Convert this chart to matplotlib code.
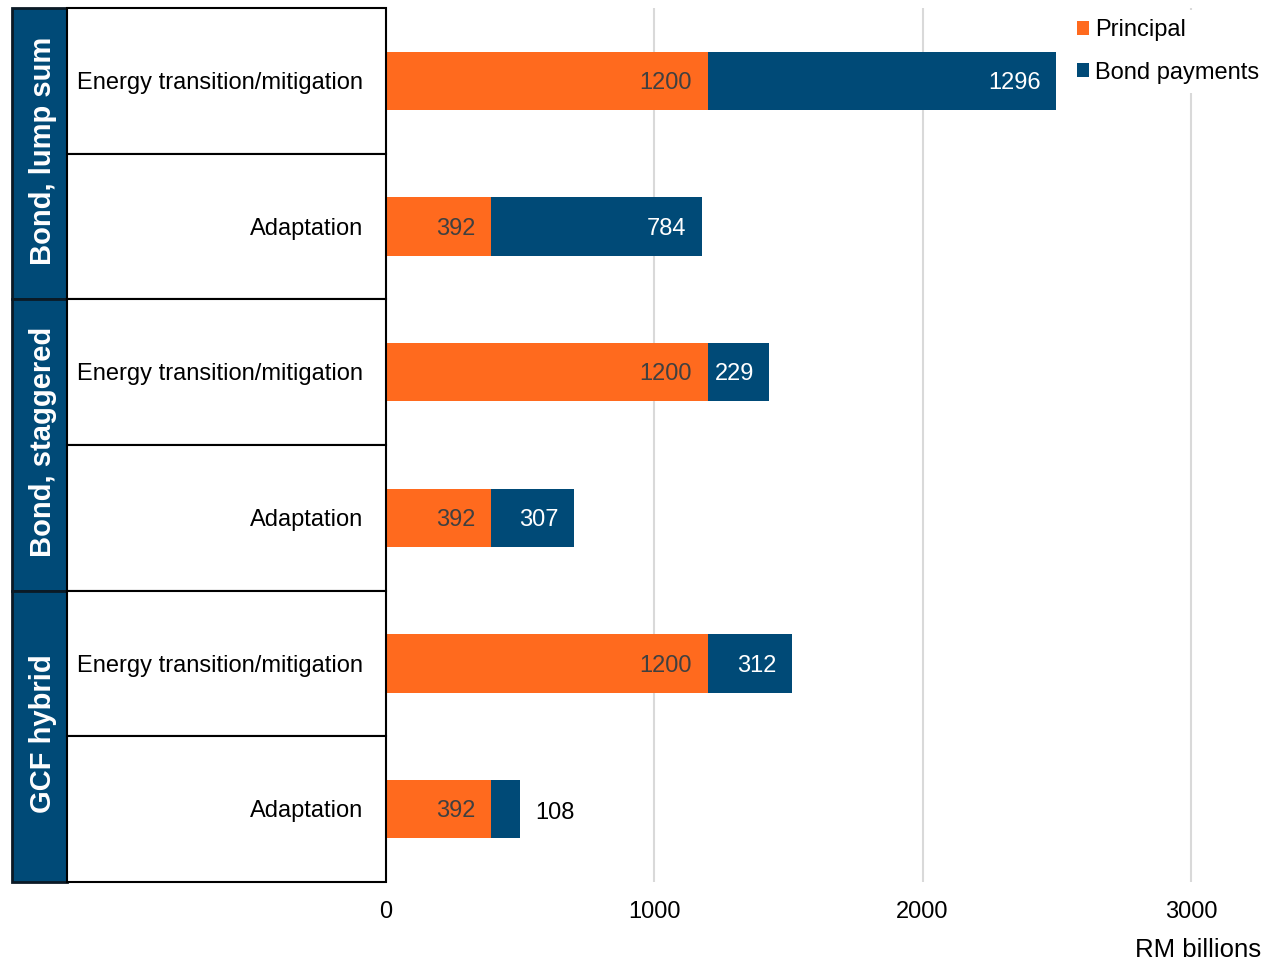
import matplotlib
matplotlib.use("Agg")
import matplotlib.pyplot as plt
from matplotlib.patches import Rectangle, Patch
import numpy as np

plt.rcParams['font.family'] = ['Liberation Sans', 'DejaVu Sans']

groups = ["Bond, lump sum", "Bond, staggered", "GCF hybrid"]
subcats = ["Energy transition/mitigation", "Adaptation",
           "Energy transition/mitigation", "Adaptation",
           "Energy transition/mitigation", "Adaptation"]
principal = [1200, 392, 1200, 392, 1200, 392]
bond_payments = [1296, 784, 229, 307, 312, 108]
series_names = ["Principal", "Bond payments"]
xticks = [0, 1000, 2000, 3000]

ORANGE = '#FF6A1E'
BLUE = '#004A77'
W, H = 1263, 963

fig = plt.figure(figsize=(W / 100, H / 100), dpi=100)
ax = fig.add_axes([386 / W, 1 - 882 / H, (1258 - 386) / W, (882 - 8) / H])
tab = fig.add_axes([12 / W, 1 - 882 / H, (386 - 12) / W, (882 - 8) / H])

y = np.arange(len(subcats))
ax.barh(y, principal, height=0.4, color=ORANGE, zorder=2)
ax.barh(y, bond_payments, left=principal, height=0.4, color=BLUE, zorder=2)
ax.set_ylim(len(subcats) - 0.5, -0.5)
ax.set_xlim(0, 3250)
ax.set_yticks([])
ax.set_xticks(xticks)
ax.set_xticklabels([str(t) for t in xticks], fontsize=17)
ax.tick_params(axis='x', length=0, pad=14)
for s in ax.spines.values():
    s.set_visible(False)
ax.xaxis.grid(True, color='#d9d9d9', lw=1.5)
ax.set_axisbelow(True)

for i in range(len(subcats)):
    p = principal[i]
    b = bond_payments[i]
    ax.annotate(str(p), (p, i), xytext=(-16, -2), textcoords='offset pixels',
                ha='right', va='center', fontsize=17, color='#404040', zorder=3)
    if b >= 200:
        ax.annotate(str(b), (p + b, i), xytext=(-15, -2), textcoords='offset pixels',
                    ha='right', va='center', fontsize=17, color='white', zorder=3)
    else:
        ax.annotate(str(b), (p + b, i), xytext=(15, -4), textcoords='offset pixels',
                    ha='left', va='center', fontsize=17, color='black', zorder=3)

leg = ax.legend(handles=[Patch(facecolor=ORANGE), Patch(facecolor=BLUE)],
                labels=series_names, loc='upper left',
                bbox_to_anchor=(1068 / W, 1 - 10 / H), bbox_transform=fig.transFigure,
                fontsize=17, handlelength=0.5, handleheight=0.5, handletextpad=0.25,
                labelspacing=0.85, frameon=True, facecolor='white', edgecolor='none',
                framealpha=1, borderpad=0.4, borderaxespad=0)
leg.set_zorder(5)

# table on the left
tab.set_xlim(0, 374)
tab.set_ylim(len(subcats) - 0.5, -0.5)
tab.axis('off')
for g, name in enumerate(groups):
    tab.add_patch(Rectangle((0, 2 * g - 0.5), 55, 2, facecolor=BLUE,
                            edgecolor='#0b1a26', lw=2, clip_on=False))
    tab.text(31, 2 * g + 0.48, name, rotation=90, ha='center', va='center',
             color='white', fontsize=21, fontweight='bold')
for i, name in enumerate(subcats):
    tab.add_patch(Rectangle((55, i - 0.5), 319, 1, facecolor='white',
                            edgecolor='black', lw=1.5, clip_on=False))
    tab.annotate(name, (351, i), xytext=(0, -2), textcoords='offset pixels',
                 ha='right', va='center', fontsize=17, color='black')

fig.text(1261 / W, 1 - 950 / H, "RM billions", ha='right', va='center', fontsize=18.5)

fig.savefig("out.png", dpi=100)
